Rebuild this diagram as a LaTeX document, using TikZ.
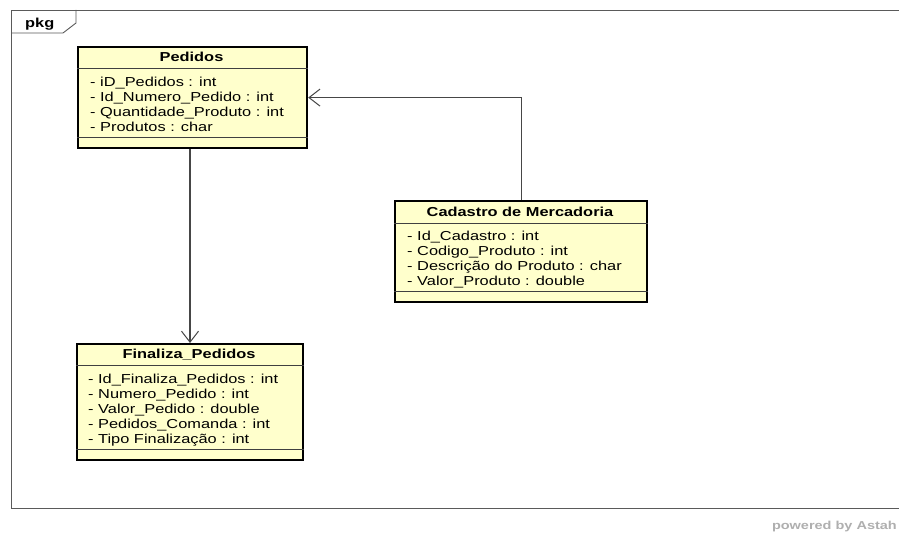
\documentclass[tikz,border=0pt]{standalone}
\usepackage{fontspec}
\setmainfont{Liberation Sans}[FakeStretch=1.26]
\usetikzlibrary{arrows.meta}
\definecolor{boxyellow}{RGB}{255,255,204}
\definecolor{framegray}{RGB}{90,90,90}
\definecolor{linkgray}{RGB}{70,70,70}
\definecolor{astahgray}{RGB}{175,175,175}
\tikzset{
  umlbox/.style={draw=black, line width=2.2pt, fill=boxyellow, inner sep=0pt, anchor=north west},
  sepline/.style={draw=black!75, line width=0.9pt},
  umltitle/.style={inner sep=0pt, anchor=base, font=\fontsize{13}{15}\selectfont\bfseries},
  attr/.style={inner sep=0pt, anchor=base west, font=\fontsize{13}{15}\selectfont},
  framel/.style={draw=framegray, line width=0.9pt},
  link/.style={draw=linkgray, line width=1.1pt, -{Straight Barb[length=11pt, width=17pt, line width=1pt]}}
}
\begin{document}
\begin{tikzpicture}[x=1pt, y=-1pt]
\useasboundingbox (0,0) rectangle (899,534);
\fill[white] (0,0) rectangle (899,534);
% package frame
\draw[framel] (899,10) -- (11,10) -- (11,508) -- (899,508);
\draw[framel] (11,33) -- (63,33) -- (76,23) -- (76,10);
\node[inner sep=0pt, anchor=base west, font=\fontsize{13}{15}\selectfont\bfseries] (pkg) at (25,27.5) {pkg};
% Pedidos
\node[umlbox, minimum width=229pt, minimum height=101pt] (ped) at (77,46) {};
\draw[sepline] (ped.west |- 0,68) -- (ped.east |- 0,68);
\draw[sepline] (ped.west |- 0,137) -- (ped.east |- 0,137);
\node[umltitle] (pedT) at (191.5,62) {Pedidos};
\node[attr] (ped1) at (90,86.5) {- iD\_Pedidos : int};
\node[attr] (ped2) at (90,101.5) {- Id\_Numero\_Pedido : int};
\node[attr] (ped3) at (90,116.5) {- Quantidade\_Produto : int};
\node[attr] (ped4) at (90,131.5) {- Produtos : char};
% Cadastro de Mercadoria
\node[umlbox, minimum width=252pt, minimum height=101pt] (cad) at (394,200) {};
\draw[sepline] (cad.west |- 0,223) -- (cad.east |- 0,223);
\draw[sepline] (cad.west |- 0,291) -- (cad.east |- 0,291);
\node[umltitle] (cadT) at (520,217) {Cadastro de Mercadoria};
\node[attr] (cad1) at (407,241) {- Id\_Cadastro : int};
\node[attr] (cad2) at (407,256) {- Codigo\_Produto : int};
\node[attr] (cad3) at (407,271) {- Descrição do Produto : char};
\node[attr] (cad4) at (407,286) {- Valor\_Produto : double};
% Finaliza_Pedidos
\node[umlbox, minimum width=226pt, minimum height=116pt] (fin) at (76,343) {};
\draw[sepline] (fin.west |- 0,365) -- (fin.east |- 0,365);
\draw[sepline] (fin.west |- 0,449) -- (fin.east |- 0,449);
\node[umltitle] (finT) at (189,359) {Finaliza\_Pedidos};
\node[attr] (fin1) at (88,383.5) {- Id\_Finaliza\_Pedidos : int};
\node[attr] (fin2) at (88,398.5) {- Numero\_Pedido : int};
\node[attr] (fin3) at (88,413.5) {- Valor\_Pedido : double};
\node[attr] (fin4) at (88,428.5) {- Pedidos\_Comanda : int};
\node[attr] (fin5) at (88,443.5) {- Tipo Finalização : int};
% connectors
\coordinate (vx) at (190,0);
\draw[link] (vx |- ped.south) -- (vx |- fin.north);
\draw[link] (cad.north) |- (ped.east);
% footer
\node[inner sep=0pt, anchor=base east, text=astahgray, font=\fontsize{11.5}{13}\selectfont\bfseries] (astah) at (897,529) {powered by Astah};
\end{tikzpicture}
\end{document}
